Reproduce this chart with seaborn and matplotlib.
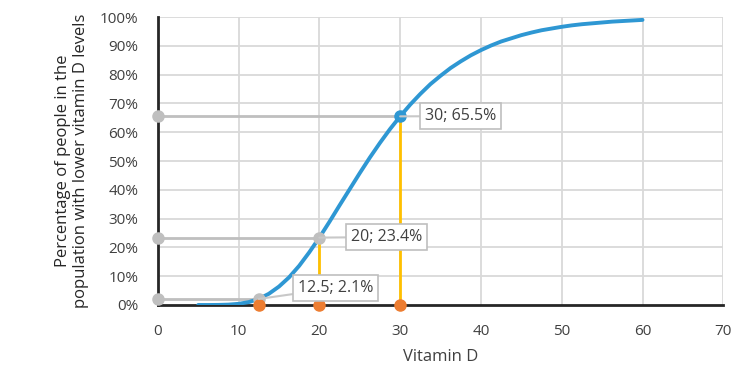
import matplotlib
matplotlib.use("Agg")
import matplotlib.pyplot as plt
import seaborn as sns
import pandas as pd

# Curve
vitamin_d = [5, 6.25, 7.5, 8.75, 10, 11.25, 12.5, 13.75, 15, 16.25, 17.5, 18.75,
             20, 21.25, 22.5, 23.75, 25, 26.25, 27.5, 28.75, 30, 31.25, 32.5,
             33.75, 35, 36.25, 37.5, 38.75, 40, 41.25, 42.5, 43.75, 45, 46.25,
             47.5, 48.75, 50, 51.25, 52.5, 53.75, 55, 56.25, 57.5, 58.75, 60]
pct_lower = [0.000, 0.0000, 0.0003, 0.0013, 0.004, 0.010, 0.021, 0.039, 0.064,
             0.096, 0.136, 0.183, 0.234, 0.289, 0.346, 0.402, 0.458, 0.512,
             0.563, 0.611, 0.655, 0.696, 0.733, 0.767, 0.796, 0.823, 0.846,
             0.867, 0.885, 0.901, 0.915, 0.926, 0.937, 0.946, 0.954, 0.960,
             0.966, 0.971, 0.975, 0.978, 0.981, 0.984, 0.986, 0.988, 0.990]

# Highlighted points
mark_x = [12.5, 20, 30]
mark_y = [0.021, 0.234, 0.655]
mark_labels = ["12.5; 2.1%", "20; 23.4%", "30; 65.5%"]

x_ticks = [0, 10, 20, 30, 40, 50, 60, 70]
y_ticks = [0, 0.1, 0.2, 0.3, 0.4, 0.5, 0.6, 0.7, 0.8, 0.9, 1.0]
y_tick_labels = ["0%", "10%", "20%", "30%", "40%", "50%", "60%", "70%", "80%", "90%", "100%"]

sns.set_style("white")
plt.rcParams['font.family'] = ['Open Sans', 'DejaVu Sans']

fig = plt.figure(figsize=(7.55, 3.74), dpi=100)
ax = fig.add_axes([0.209, 0.1845, 0.749, 0.77])

BLUE = "#2E97D3"
GRAY = "#BFBFBF"
YELLOW = "#FFC000"
ORANGE = "#ED7D31"

df = pd.DataFrame({"x": vitamin_d, "y": pct_lower})

# grid
for xt in x_ticks[1:]:
    ax.axvline(xt, color="#D9D9D9", lw=1.3, zorder=0)
for yt in y_ticks[1:]:
    ax.axhline(yt, color="#D9D9D9", lw=1.3, zorder=0)

# horizontal gray guides and vertical yellow guides
for mx, my in zip(mark_x, mark_y):
    ax.plot([0, mx], [my, my], color=GRAY, lw=2, zorder=2, solid_capstyle="butt")
    ax.plot([mx, mx], [0, my], color=YELLOW, lw=2, zorder=2)
    ax.plot([0], [my], "o", color=GRAY, ms=8, zorder=6, clip_on=False)

sns.lineplot(data=df, x="x", y="y", ax=ax, color=BLUE, lw=2.8, zorder=4)

for i, (mx, my) in enumerate(zip(mark_x, mark_y)):
    c = BLUE if i == 2 else GRAY
    ax.plot([mx], [my], "o", color=c, ms=8, zorder=5)
    ax.plot([mx], [0], "o", color=ORANGE, ms=8, zorder=6, clip_on=False)

label_pos = [(22.0, 0.059), (28.3, 0.236), (37.5, 0.656)]
for (lx, ly), (mx, my), txt in zip(label_pos, zip(mark_x, mark_y), mark_labels):
    ax.annotate(txt, xy=(mx, my), xytext=(lx, ly), ha="center", va="center",
                fontsize=11.5, color="#404040", zorder=7,
                bbox=dict(boxstyle="square,pad=0.3", fc="white", ec="#BFBFBF", lw=1.2),
                arrowprops=dict(arrowstyle="-", color="#C8C8C8", lw=1.5,
                                shrinkA=0, shrinkB=0))

ax.set_xlim(0, 70)
ax.set_ylim(0, 1)
ax.set_xticks(x_ticks)
ax.set_yticks(y_ticks)
ax.set_yticklabels(y_tick_labels)
ax.tick_params(axis="both", length=0, labelsize=11, colors="#404040")
ax.tick_params(axis="y", pad=14)
ax.tick_params(axis="x", pad=14)

for s in ["top", "right"]:
    ax.spines[s].set_visible(False)
for s in ["left", "bottom"]:
    ax.spines[s].set_color("#262626")
    ax.spines[s].set_linewidth(2)
    ax.spines[s].set_zorder(3)

ax.set_xlabel("Vitamin D", fontsize=12, color="#404040", labelpad=7)
ax.set_ylabel("Percentage of people in the\npopulation with lower vitamin D levels",
              fontsize=12, color="#262626", labelpad=8, fontweight="medium",
              linespacing=1.1)

fig.savefig("out.png", dpi=100)
